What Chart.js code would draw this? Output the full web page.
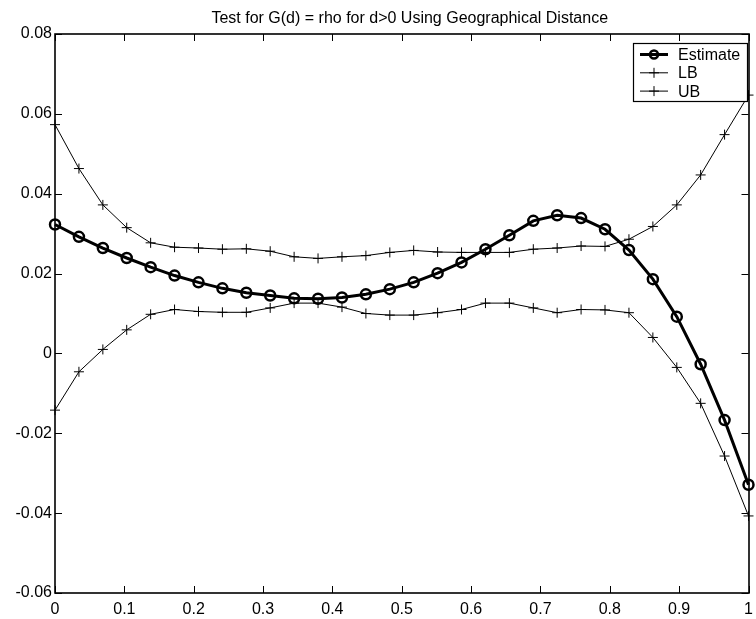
<!DOCTYPE html>
<html>
<head>
<meta charset="utf-8">
<script src="https://cdn.jsdelivr.net/npm/chart.js@4/dist/chart.umd.min.js"></script>
<style>
  html, body {margin: 0; padding: 0; background: #fff;}
  #wrap {width: 756px; height: 619px;}
</style>
</head>
<body>
<div id="wrap"><canvas id="chart" width="756" height="619"></canvas></div>
<script>
const TITLE = `Test for G(d) = rho for d>0 Using Geographical Distance`;

// distance (normalised), 30 lags
const distance = [0, 0.0345, 0.0690, 0.1034, 0.1379, 0.1724, 0.2069, 0.2414, 0.2759, 0.3103,
  0.3448, 0.3793, 0.4138, 0.4483, 0.4828, 0.5172, 0.5517, 0.5862, 0.6207, 0.6552,
  0.6897, 0.7241, 0.7586, 0.7931, 0.8276, 0.8621, 0.8966, 0.9310, 0.9655, 1];

const estimate = [0.0323, 0.0292, 0.0264, 0.0239, 0.0216, 0.0195, 0.0178, 0.0163, 0.0152, 0.0145,
  0.0138, 0.0137, 0.0140, 0.0148, 0.0161, 0.0178, 0.0201, 0.0228, 0.0261, 0.0296,
  0.0332, 0.0346, 0.0339, 0.0311, 0.0259, 0.0186, 0.0092, -0.0027, -0.0167, -0.0329];

const lowerBound = [-0.0142, -0.0046, 0.0010, 0.0059, 0.0098, 0.0110, 0.0105, 0.0103, 0.0103, 0.0114,
  0.0126, 0.0126, 0.0116, 0.0100, 0.0096, 0.0096, 0.0102, 0.0110, 0.0126, 0.0126,
  0.0114, 0.0102, 0.0110, 0.0109, 0.0102, 0.0040, -0.0035, -0.0125, -0.0257, -0.0407];

const upperBound = [0.0573, 0.0463, 0.0372, 0.0315, 0.0277, 0.0266, 0.0264, 0.0261, 0.0262, 0.0256,
  0.0242, 0.0238, 0.0242, 0.0245, 0.0253, 0.0258, 0.0254, 0.0253, 0.0253, 0.0253,
  0.0261, 0.0264, 0.0269, 0.0268, 0.0286, 0.0318, 0.0372, 0.0447, 0.0548, 0.0647];

const xTicks = [0, 0.1, 0.2, 0.3, 0.4, 0.5, 0.6, 0.7, 0.8, 0.9, 1];
const yTicks = [-0.06, -0.04, -0.02, 0, 0.02, 0.04, 0.06, 0.08];

const FONT = `"Liberation Sans", Arial, Helvetica, sans-serif`;
const FONT_SIZE = 16;

const toPoints = (ys) => ys.map((y, i) => ({x: distance[i], y}));
const fmt = (v) => String(Number(v.toFixed(2)));

// box round the axes with inward ticks on every side, matlab style
const boxPlugin = {
  id: `box`,
  afterDraw(chart) {
    const {ctx, chartArea: a, scales} = chart;
    const len = 7;
    ctx.save();
    ctx.strokeStyle = `#000`;
    ctx.lineWidth = 1;
    ctx.beginPath();
    xTicks.forEach((t) => {
      const px = Math.round(scales.x.getPixelForValue(t)) + 0.5;
      ctx.moveTo(px, a.bottom);
      ctx.lineTo(px, a.bottom - len);
      ctx.moveTo(px, a.top);
      ctx.lineTo(px, a.top + len);
    });
    yTicks.forEach((t) => {
      const py = Math.round(scales.y.getPixelForValue(t)) + 0.5;
      ctx.moveTo(a.left, py);
      ctx.lineTo(a.left + len, py);
      ctx.moveTo(a.right, py);
      ctx.lineTo(a.right - len, py);
    });
    ctx.stroke();
    ctx.lineWidth = 1.6;
    ctx.strokeRect(Math.round(a.left), Math.round(a.top),
        Math.round(a.right - a.left), Math.round(a.bottom - a.top));

    // title
    ctx.fillStyle = `#000`;
    ctx.font = `${FONT_SIZE}px ${FONT}`;
    ctx.textAlign = `center`;
    ctx.textBaseline = `middle`;
    ctx.fillText(TITLE, (a.left + a.right) / 2 + 8, 19);

    // legend
    const lx = 633;
    const ly = 43;
    ctx.fillStyle = `#fff`;
    ctx.fillRect(lx, ly, 114, 58);
    ctx.lineWidth = 1.2;
    ctx.strokeRect(lx + 0.5, ly + 0.5, 114, 58);
    chart.data.datasets.forEach((ds, i) => {
      const y = 54.5 + i * 18.3;
      ctx.strokeStyle = `#000`;
      ctx.lineWidth = ds.borderWidth;
      ctx.beginPath();
      ctx.moveTo(640, y);
      ctx.lineTo(668, y);
      ctx.stroke();
      ctx.lineWidth = ds.pointBorderWidth;
      ctx.beginPath();
      if (ds.pointStyle === `circle`) {
        ctx.arc(654, y, ds.pointRadius - 1, 0, Math.PI * 2);
      } else {
        ctx.moveTo(654 - ds.pointRadius, y);
        ctx.lineTo(654 + ds.pointRadius, y);
        ctx.moveTo(654, y - ds.pointRadius);
        ctx.lineTo(654, y + ds.pointRadius);
      }
      ctx.stroke();
      ctx.fillStyle = `#000`;
      ctx.textAlign = `left`;
      ctx.fillText(ds.label, 678, y + 1);
    });
    ctx.restore();
  }
};

const lineSet = (label, data, opts) => Object.assign({
  label,
  data: toPoints(data),
  borderColor: `#000`,
  backgroundColor: `rgba(0,0,0,0)`,
  pointBorderColor: `#000`,
  pointBackgroundColor: `rgba(0,0,0,0)`,
  tension: 0,
  clip: false,
}, opts);

new Chart(document.getElementById(`chart`), {
  type: `line`,
  plugins: [boxPlugin],
  data: {
    datasets: [
      lineSet(`Estimate`, estimate, {borderWidth: 3, pointStyle: `circle`, pointRadius: 5, pointBorderWidth: 2.5}),
      lineSet(`LB`, lowerBound, {borderWidth: 1, pointStyle: `cross`, pointRadius: 5, pointBorderWidth: 1}),
      lineSet(`UB`, upperBound, {borderWidth: 1, pointStyle: `cross`, pointRadius: 5, pointBorderWidth: 1}),
    ]
  },
  options: {
    responsive: false,
    animation: false,
    layout: {padding: {top: 34, right: 2, left: 0, bottom: 0}},
    plugins: {
      legend: {display: false},
      title: {display: false},
      tooltip: {enabled: false},
    },
    elements: {point: {hoverRadius: 5}},
    scales: {
      x: {
        type: `linear`,
        min: 0,
        max: 1,
        afterBuildTicks: (scale) => {
          scale.ticks = xTicks.map((value) => ({value}));
        },
        afterFit: (scale) => {
          scale.height = 26;
          scale.paddingLeft = 0;
          scale.paddingRight = 0;
        },
        grid: {display: false, drawTicks: false},
        border: {display: false},
        ticks: {
          color: `#000`,
          padding: 7,
          maxRotation: 0,
          autoSkip: false,
          font: {family: FONT, size: FONT_SIZE},
          callback: (v) => String(Math.round(v * 10) / 10),
        }
      },
      y: {
        type: `linear`,
        min: -0.06,
        max: 0.08,
        afterBuildTicks: (scale) => {
          scale.ticks = yTicks.map((value) => ({value}));
        },
        afterFit: (scale) => {
          scale.width = 55;
          scale.paddingTop = 0;
          scale.paddingBottom = 0;
        },
        grid: {display: false, drawTicks: false},
        border: {display: false},
        ticks: {
          color: `#000`,
          padding: 3,
          autoSkip: false,
          font: {family: FONT, size: FONT_SIZE},
          callback: fmt,
        }
      }
    }
  }
});
</script>
</body>
</html>
